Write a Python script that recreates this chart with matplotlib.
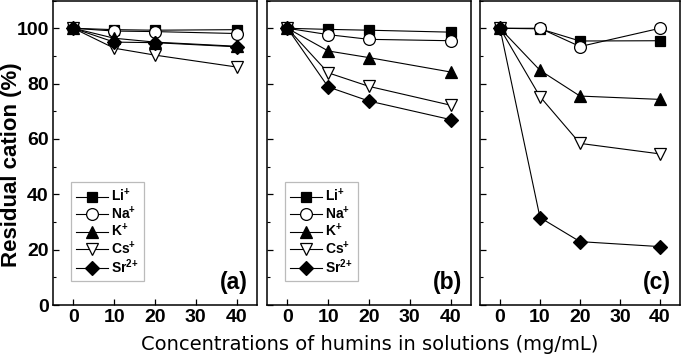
import matplotlib
matplotlib.use("Agg")
import matplotlib.pyplot as plt
from matplotlib.ticker import MultipleLocator

plt.rcParams['font.family'] = ['Liberation Sans', 'DejaVu Sans']
plt.rcParams['mathtext.fontset'] = 'custom'
plt.rcParams['mathtext.rm'] = 'Liberation Sans:bold'
plt.rcParams['mathtext.bf'] = 'Liberation Sans:bold'
plt.rcParams['mathtext.it'] = 'Liberation Sans:bold'

conc = [0, 10, 20, 40]
cations = [r'Li$^{{+}}$', r'Na$^{{+}}$', r'K$^{{+}}$', r'Cs$^{{+}}$', r'Sr$^{2{+}}$']
panel_labels = ['(a)', '(b)', '(c)']

# Panel (a)
a_li = [100, 99.5, 99.3, 99.5]
a_na = [100, 99.0, 98.8, 98.1]
a_k = [100, 96.4, 95.0, 93.5]
a_cs = [100, 92.8, 90.3, 86.0]
a_sr = [100, 95.0, 94.8, 93.3]

# Panel (b)
b_li = [100, 99.6, 99.3, 98.6]
b_na = [100, 97.7, 96.0, 95.5]
b_k = [100, 91.8, 89.4, 84.2]
b_cs = [100, 83.9, 79.0, 72.2]
b_sr = [100, 78.8, 73.7, 67.0]

# Panel (c)
c_li = [100, 99.8, 95.4, 95.5]
c_na = [100, 100.0, 93.4, 100.0]
c_k = [100, 84.8, 75.5, 74.3]
c_cs = [100, 75.3, 58.4, 54.6]
c_sr = [100, 31.6, 22.9, 21.1]

panels = [
    [a_li, a_na, a_k, a_cs, a_sr],
    [b_li, b_na, b_k, b_cs, b_sr],
    [c_li, c_na, c_k, c_cs, c_sr],
]

styles = [
    dict(marker='s', mfc='black', ms=7.5),
    dict(marker='o', mfc='white', ms=8.5),
    dict(marker='^', mfc='black', ms=9),
    dict(marker='v', mfc='white', ms=9),
    dict(marker='D', mfc='black', ms=7.5),
]

W, H = 685, 362
fig = plt.figure(figsize=(W / 100, H / 100), dpi=100)
boxes = [(53, 257), (267, 471), (480, 680)]
bottom_px, top_px = 305, 0.6
axes = []
for i, (l, r) in enumerate(boxes):
    ax = fig.add_axes([l / W, (H - bottom_px) / H, (r - l) / W, (bottom_px - top_px) / H])
    axes.append(ax)
    for series, st in zip(panels[i], styles):
        ax.plot(conc, series, color='black', lw=0.8, mec='black', mew=0.9,
                zorder=3, **st)
    ax.set_xlim(-5, 45)
    ax.set_ylim(0, 110)
    ax.set_xticks([0, 10, 20, 30, 40])
    ax.yaxis.set_major_locator(MultipleLocator(20))
    ax.yaxis.set_minor_locator(MultipleLocator(10))
    ax.tick_params(axis='both', which='major', direction='in', length=4, width=0.9,
                   labelsize=14, pad=3)
    ax.tick_params(axis='y', which='minor', direction='in', length=2.5, width=0.8)
    for lab in ax.get_xticklabels() + ax.get_yticklabels():
        lab.set_fontweight('bold')
    for sp in ax.spines.values():
        sp.set_linewidth(1.1)
    if i > 0:
        ax.tick_params(axis='y', labelleft=False)
    ax.text(0.955, 0.035, panel_labels[i], transform=ax.transAxes, ha='right', va='bottom',
            fontsize=16.5, fontweight='bold')
    if i < 2:
        handles = []
        for st in styles:
            h, = ax.plot([], [], color='black', lw=0.8, mec='black', mew=0.9, **st)
            handles.append(h)
        leg = ax.legend(handles, cations, loc='lower left', bbox_to_anchor=(0.088, 0.079),
                        frameon=True, fancybox=False, edgecolor='#aaaaaa',
                        prop=dict(weight='bold', size=10), handlelength=2.3,
                        handletextpad=0.25, labelspacing=0.02, borderpad=0.35,
                        borderaxespad=0)
        leg.get_frame().set_linewidth(0.9)

fig.text(12 / W, (H - 165) / H, 'Residual cation (%)', rotation=90,
         ha='center', va='center', fontsize=16, fontweight='bold')
fig.text(370 / W, (H - 345) / H, 'Concentrations of humins in solutions (mg/mL)',
         ha='center', va='center', fontsize=14, family=['DejaVu Sans'])

fig.savefig('out.png', dpi=100)
